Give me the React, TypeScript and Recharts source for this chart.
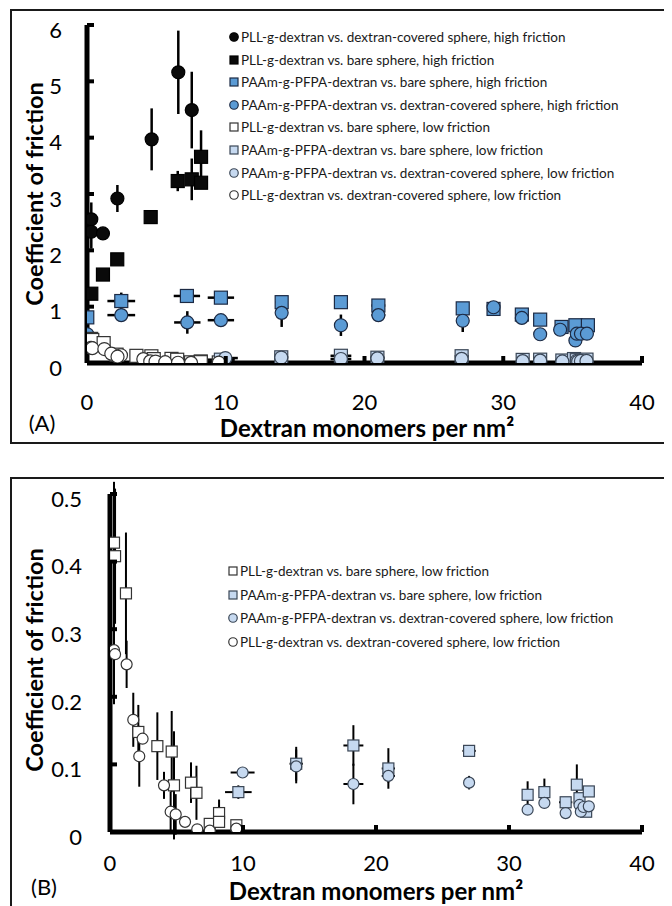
import { ScatterChart, Scatter, XAxis, YAxis, ErrorBar } from 'recharts'

const FONT = 'Lato, "Open Sans", sans-serif'

// each row: [dextran monomers per nm², coefficient of friction, x error, y error]
type Row = [number, number, number, number]

const pllDcHigh: Row[] = [
  [6.58, 5.16, 0, 0.74], [7.55, 4.49, 0, 0.68], [4.66, 3.97, 0, 0.55], [2.19, 2.92, 0, 0.24],
  [0.31, 2.55, 0, 0.3], [0.31, 2.33, 0, 0.3], [1.15, 2.3, 0, 0],
]
const pllBareHigh: Row[] = [
  [6.54, 3.23, 0, 0.18], [7.55, 3.26, 0, 0.37], [8.22, 3.2, 0, 0.1], [8.22, 3.66, 0, 0.47],
  [4.59, 2.59, 0, 0], [2.18, 1.84, 0, 0], [1.15, 1.57, 0, 0.1], [0.31, 1.23, 0, 0],
]
const paamBareHigh: Row[] = [
  [0.02, 0.81, 0, 0], [2.47, 1.1, 1.0, 0.15], [7.2, 1.19, 0.95, 0], [9.65, 1.16, 0.95, 0],
  [14.03, 1.08, 0.45, 0.1], [18.3, 1.08, 0.5, 0], [21.0, 1.02, 0.5, 0.1], [27.08, 0.97, 0.4, 0.05],
  [29.3, 0.96, 0, 0.05], [31.34, 0.86, 0, 0.1], [32.66, 0.77, 0, 0], [34.2, 0.64, 0.4, 0.05],
  [35.2, 0.67, 0.3, 0], [36.1, 0.67, 0.3, 0],
]
const paamDcHigh: Row[] = [
  [0.02, 0.51, 0, 0], [2.47, 0.85, 1.0, 0], [7.23, 0.72, 0.95, 0.2], [9.65, 0.76, 0.95, 0],
  [14.03, 0.89, 0, 0.25], [18.3, 0.67, 0.5, 0.19], [21.0, 0.85, 0.5, 0.05], [27.08, 0.75, 0.4, 0.2],
  [29.3, 0.99, 0, 0.05], [31.34, 0.8, 0, 0.05], [32.66, 0.51, 0, 0], [34.1, 0.59, 0.4, 0.03],
  [35.2, 0.4, 0, 0], [35.3, 0.52, 0, 0], [35.6, 0.52, 0, 0], [36.03, 0.52, 0.3, 0],
]
const pllBareLow: Row[] = [
  [0.3, 0.428, 0, 0.09], [0.38, 0.408, 0, 0.1], [1.2, 0.353, 0, 0.09], [2.13, 0.148, 0, 0.04],
  [3.56, 0.127, 0, 0.05], [4.64, 0.119, 0, 0.06], [4.81, 0.069, 0, 0.08], [6.09, 0.073, 0, 0.03],
  [6.5, 0.058, 0, 0.04], [7.5, 0.012, 0, 0], [8.2, 0.028, 0, 0.02], [8.2, 0.015, 0, 0],
  [9.5, 0.01, 0, 0],
]
const paamBareLow: Row[] = [
  [9.65, 0.059, 1.0, 0.01], [14.0, 0.101, 0.5, 0.025], [18.3, 0.128, 0.75, 0.03], [20.93, 0.094, 0.5, 0.03],
  [27.0, 0.12, 0.5, 0], [31.4, 0.055, 0, 0.02], [32.66, 0.059, 0, 0.02], [34.26, 0.044, 0.5, 0],
  [35.1, 0.07, 0.3, 0.03], [35.3, 0.05, 0, 0], [35.8, 0.03, 0, 0], [36.0, 0.06, 0.3, 0],
]
const paamDcLow: Row[] = [
  [9.97, 0.088, 0.9, 0], [14.0, 0.097, 0.4, 0.025], [18.3, 0.071, 0.75, 0.03], [20.93, 0.083, 0.5, 0.01],
  [27.0, 0.073, 0, 0.01], [31.4, 0.033, 0, 0], [32.66, 0.043, 0, 0], [34.26, 0.028, 0, 0],
  [35.3, 0.04, 0, 0], [35.4, 0.03, 0, 0], [35.6, 0.037, 0, 0], [36.0, 0.038, 0.2, 0],
]
const pllDcLow: Row[] = [
  [0.3, 0.269, 0, 0.08], [0.38, 0.263, 0, 0], [1.25, 0.248, 0, 0.035], [1.75, 0.166, 0, 0.04],
  [2.45, 0.138, 0, 0], [2.2, 0.112, 0, 0.045], [4.06, 0.069, 0, 0.02], [4.56, 0.03, 0, 0.03],
  [4.94, 0.026, 0, 0.03], [5.64, 0.015, 0, 0], [6.56, 0.004, 0, 0], [7.5, 0.002, 0, 0],
  [9.5, 0.005, 0, 0],
]

const xTicks = [0, 10, 20, 30, 40]
const yTicksA = [0, 1, 2, 3, 4, 5, 6]
const yTicksB = [0, 0.1, 0.2, 0.3, 0.4, 0.5]

type Series = { name: string; rows: Row[]; kind: 'circle' | 'square'; fill: string; stroke: string }

const S_PLL_DC_HIGH: Series = { name: 'PLL-g-dextran vs. dextran-covered sphere, high friction', rows: pllDcHigh, kind: 'circle', fill: '#0a0a0a', stroke: '#000' }
const S_PLL_BARE_HIGH: Series = { name: 'PLL-g-dextran vs. bare sphere, high friction', rows: pllBareHigh, kind: 'square', fill: '#0a0a0a', stroke: '#000' }
const S_PAAM_BARE_HIGH: Series = { name: 'PAAm-g-PFPA-dextran vs. bare sphere, high friction', rows: paamBareHigh, kind: 'square', fill: '#5b9bd5', stroke: '#1c2a44' }
const S_PAAM_DC_HIGH: Series = { name: 'PAAm-g-PFPA-dextran vs. dextran-covered sphere, high friction', rows: paamDcHigh, kind: 'circle', fill: '#5b9bd5', stroke: '#1c2a44' }
const S_PLL_BARE_LOW: Series = { name: 'PLL-g-dextran vs. bare sphere, low friction', rows: pllBareLow, kind: 'square', fill: '#ffffff', stroke: '#333' }
const S_PAAM_BARE_LOW: Series = { name: 'PAAm-g-PFPA-dextran vs. bare sphere, low friction', rows: paamBareLow, kind: 'square', fill: '#c6d9f0', stroke: '#3a4656' }
const S_PAAM_DC_LOW: Series = { name: 'PAAm-g-PFPA-dextran vs. dextran-covered sphere, low friction', rows: paamDcLow, kind: 'circle', fill: '#c6d9f0', stroke: '#3a4656' }
const S_PLL_DC_LOW: Series = { name: 'PLL-g-dextran vs. dextran-covered sphere, low friction', rows: pllDcLow, kind: 'circle', fill: '#ffffff', stroke: '#333' }

const seriesA = [S_PLL_DC_HIGH, S_PLL_BARE_HIGH, S_PAAM_BARE_HIGH, S_PAAM_DC_HIGH, S_PLL_BARE_LOW, S_PAAM_BARE_LOW, S_PAAM_DC_LOW, S_PLL_DC_LOW]
const seriesB = [S_PLL_BARE_LOW, S_PAAM_BARE_LOW, S_PAAM_DC_LOW, S_PLL_DC_LOW]

const toPoints = (rows: Row[]) => rows.map(([x, y, ex, ey]) => ({ x, y, ex, ey }))

function Marker({ cx, cy, kind, size, fill, stroke }: any) {
  if (cx == null || cy == null) return null
  const h = size / 2
  return kind === 'square'
    ? <rect x={cx - h} y={cy - h} width={size} height={size} fill={fill} stroke={stroke} strokeWidth={1.2} />
    : <circle cx={cx} cy={cy} r={h} fill={fill} stroke={stroke} strokeWidth={1.2} />
}

const xTick = (labelGap: number) => (props: any) => {
  const { x, y, payload } = props
  return (
    <g>
      <line x1={x} y1={y} x2={x} y2={y - 7} stroke="#000" strokeWidth={4} />
      <text x={x} y={y + labelGap} textAnchor="middle" dy="0.35em" fontSize={22} fill="#000">{payload.value}</text>
    </g>
  )
}

const yTick = (labelGap: number) => (props: any) => {
  const { x, y, payload } = props
  return (
    <g>
      <line x1={x} y1={y} x2={x + 7} y2={y} stroke="#000" strokeWidth={4} />
      <text x={x - labelGap} y={y + 5} textAnchor="end" dy="0.35em" fontSize={22} fill="#000">{payload.value}</text>
    </g>
  )
}

interface PanelProps {
  series: Series[]
  width: number
  height: number
  margin: { top: number; right: number; bottom: number; left: number }
  yMax: number
  yTicks: number[]
  size: number
  errWidth: number
  xGap: number
  yGap: number
}

function Panel({ series, width, height, margin, yMax, yTicks, size, errWidth, xGap, yGap }: PanelProps) {
  return (
    <ScatterChart width={width} height={height} margin={margin}>
      <XAxis type="number" dataKey="x" domain={[0, 40]} ticks={xTicks} allowDataOverflow
        height={40} tickSize={0} tickMargin={0} tickLine={false}
        axisLine={{ stroke: '#000', strokeWidth: 5 }} tick={xTick(xGap)} />
      <YAxis type="number" dataKey="y" domain={[0, yMax]} ticks={yTicks} allowDataOverflow
        width={60} tickSize={0} tickMargin={0} tickLine={false}
        axisLine={{ stroke: '#000', strokeWidth: 5 }} tick={yTick(yGap)} />
      {series.map(s => (
        <Scatter key={s.name} name={s.name} data={toPoints(s.rows)} isAnimationActive={false}
          shape={(p: any) => <Marker cx={p.cx} cy={p.cy} kind={s.kind} size={size} fill={s.fill} stroke={s.stroke} />}>
          <ErrorBar dataKey="ey" direction="y" width={0} stroke="#000" strokeWidth={errWidth} />
          <ErrorBar dataKey="ex" direction="x" width={0} stroke="#000" strokeWidth={errWidth} />
        </Scatter>
      ))}
    </ScatterChart>
  )
}

function LegendBox({ series, left, top, rowGap }: { series: Series[]; left: number; top: number; rowGap: number }) {
  return (
    <div style={{ position: 'absolute', left, top }}>
      {series.map((s, i) => (
        <div key={s.name} style={{ position: 'absolute', top: i * rowGap, left: 0, height: 0, whiteSpace: 'nowrap' }}>
          <svg width={10} height={10} style={{ position: 'absolute', left: -5, top: -5 }}>
            <Marker cx={5} cy={5} kind={s.kind} size={s.kind === 'square' ? 8 : 8.5} fill={s.fill} stroke={s.stroke} />
          </svg>
          <span style={{ position: 'absolute', left: 7, top: -9, fontSize: 13.5, lineHeight: '18px', color: '#1a1a1a' }}>{s.name}</span>
        </div>
      ))}
    </div>
  )
}

const centered = (left: number, top: number, extra: any = {}) => ({
  position: 'absolute' as const, left, top, transform: 'translate(-50%, -50%)', whiteSpace: 'nowrap' as const, lineHeight: 1, ...extra,
})

export default function App() {
  return (
    <div style={{ position: 'relative', width: 664, height: 898, overflow: 'hidden', fontFamily: FONT, color: '#000' }}>
      <div style={{ position: 'absolute', left: 2, top: 1, width: 700, height: 435, border: '2px solid #1a1a1a', boxSizing: 'border-box' }} />
      <div style={{ position: 'absolute', left: 2, top: 469, width: 700, height: 600, border: '2px solid #1a1a1a', boxSizing: 'border-box' }} />

      <div style={{ position: 'absolute', left: 0, top: 0 }}>
        <Panel series={seriesA} width={664} height={436} margin={{ top: 17, right: 30, bottom: 41, left: 19 }}
          yMax={6} yTicks={yTicksA} size={13} errWidth={2.5} xGap={39} yGap={25} />
      </div>
      <div style={{ position: 'absolute', left: 0, top: 469 }}>
        <Panel series={seriesB} width={664} height={429} margin={{ top: 17, right: 30, bottom: 34, left: 42 }}
          yMax={0.5} yTicks={yTicksB} size={11} errWidth={2} xGap={31} yGap={28} />
      </div>

      <LegendBox series={seriesA} left={226} top={29} rowGap={22.6} />
      <LegendBox series={seriesB} left={225} top={563} rowGap={23.5} />

      <div style={centered(27, 186, { transform: 'translate(-50%, -50%) rotate(-90deg)', fontSize: 23.5, fontWeight: 700 })}>Coefficient of friction</div>
      <div style={centered(359, 420, { fontSize: 24, fontWeight: 700 })}>Dextran monomers per nm²</div>
      <div style={centered(34, 415, { fontSize: 22 })}>(A)</div>

      <div style={centered(27, 652, { transform: 'translate(-50%, -50%) rotate(-90deg)', fontSize: 23.5, fontWeight: 700 })}>Coefficient of friction</div>
      <div style={centered(368, 883, { fontSize: 24, fontWeight: 700 })}>Dextran monomers per nm²</div>
      <div style={centered(36, 879, { fontSize: 22 })}>(B)</div>
    </div>
  )
}
